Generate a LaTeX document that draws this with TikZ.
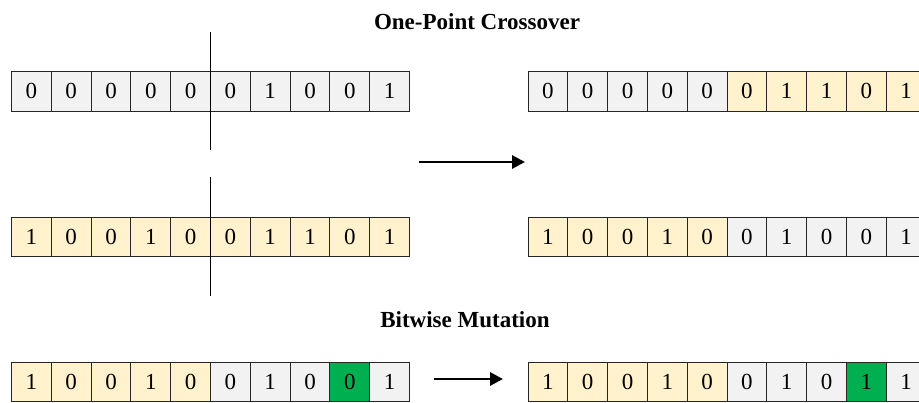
\documentclass[tikz,border=0pt]{standalone}
\usepackage{fontspec}
\setmainfont{Liberation Serif}
\usetikzlibrary{arrows.meta}
\definecolor{cg}{HTML}{F2F2F2}
\definecolor{cy}{HTML}{FFF2CC}
\definecolor{cn}{HTML}{00B050}
% one row of ten bits: name prefix, left x, top y, list of colour/value pairs
\newcommand\bitrow[4]{%
  \foreach \c/\v [count=\i] in {#4}
    \node[bit, fill=\c] (#1\i) at ({#2+(\i-1)*39.8},#3) {\v};%
}
\begin{document}
\begin{tikzpicture}[x=1pt,y=-1pt,
  bit/.style={draw=black!85, line width=0.9pt, minimum width=39.8pt,
    minimum height=39.8pt, inner sep=0pt, outer sep=0pt, anchor=north west,
    font=\fontsize{23}{27}\selectfont},
  cut/.style={line width=1.7pt},
  flow/.style={line width=2.9pt, -{Triangle[length=13pt,width=13pt]}},
  heading/.style={font=\bfseries\fontsize{23}{27}\selectfont, anchor=base}]
\useasboundingbox (0,0) rectangle (919,403);

% crossover: parents on the left, offspring on the right
\node[heading] (t1) at (477,30) {One-Point Crossover};
\bitrow{a}{11.5}{71.5}{cg/0,cg/0,cg/0,cg/0,cg/0,cg/0,cg/1,cg/0,cg/0,cg/1}
\bitrow{b}{11.5}{217}{cy/1,cy/0,cy/0,cy/1,cy/0,cy/0,cy/1,cy/1,cy/0,cy/1}
\bitrow{c}{528}{71.5}{cg/0,cg/0,cg/0,cg/0,cg/0,cy/0,cy/1,cy/1,cy/0,cy/1}
\bitrow{d}{528}{217}{cy/1,cy/0,cy/0,cy/1,cy/0,cg/0,cg/1,cg/0,cg/0,cg/1}

% crossover point
\draw[cut] ([yshift=39.5pt]a6.north west) -- ([yshift=-39pt]a6.south west);
\draw[cut] ([yshift=39.5pt]b6.north west) -- ([yshift=-39pt]b6.south west);

\coordinate (xs) at (419,162);
\coordinate (xe) at (525,162);
\draw[flow] (xs) -- (xe);

% mutation of a single bit
\node[heading] (t2) at (465,328) {Bitwise Mutation};
\bitrow{e}{11.5}{362}{cy/1,cy/0,cy/0,cy/1,cy/0,cg/0,cg/1,cg/0,cn/0,cg/1}
\bitrow{f}{528}{362}{cy/1,cy/0,cy/0,cy/1,cy/0,cg/0,cg/1,cg/0,cn/1,cg/1}

\coordinate (ms) at (434,379);
\coordinate (me) at (503,379);
\draw[flow] (ms) -- (me);
\end{tikzpicture}
\end{document}
